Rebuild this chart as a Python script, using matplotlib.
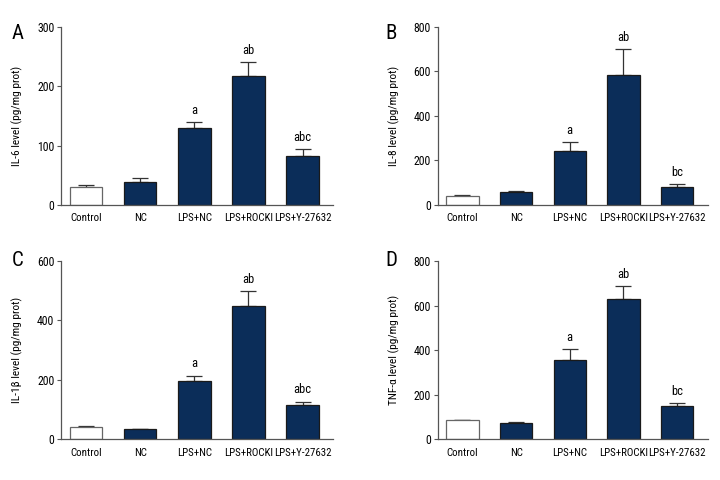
import matplotlib
matplotlib.use("Agg")
import matplotlib.pyplot as plt
import numpy as np

plt.rcParams["font.family"] = ["Roboto Condensed", "DejaVu Sans"]

groups = ["Control", "NC", "LPS+NC", "LPS+ROCKI", "LPS+Y-27632"]

il6_mean = [31, 39, 130, 217, 83]
il6_err = [2, 7, 9, 24, 11]
il6_sig = ["", "", "a", "ab", "abc"]

il8_mean = [39, 58, 243, 584, 82]
il8_err = [4, 5, 39, 116, 12]
il8_sig = ["", "", "a", "ab", "bc"]

il1b_mean = [41, 35, 195, 448, 115]
il1b_err = [2, 1, 19, 50, 12]
il1b_sig = ["", "", "a", "ab", "abc"]

tnf_mean = [87, 73, 356, 629, 151]
tnf_err = [1, 3, 49, 57, 10]
tnf_sig = ["", "", "a", "ab", "bc"]

panels = [
    ("A", "IL-6 level (pg/mg prot)", il6_mean, il6_err, il6_sig, 300, 100),
    ("B", "IL-8 level (pg/mg prot)", il8_mean, il8_err, il8_sig, 800, 200),
    ("C", "IL-1\u03b2 level (pg/mg prot)", il1b_mean, il1b_err, il1b_sig, 600, 200),
    ("D", "TNF-\u03b1 level (pg/mg prot)", tnf_mean, tnf_err, tnf_sig, 800, 200),
]

# axes rectangles in figure fraction (left, bottom, width, height)
rects = [
    (0.085, 0.573, 0.378, 0.371),
    (0.608, 0.573, 0.375, 0.371),
    (0.085, 0.085, 0.378, 0.371),
    (0.608, 0.085, 0.375, 0.371),
]
letter_pos = [(0.016, 0.950), (0.535, 0.950), (0.016, 0.478), (0.535, 0.478)]

navy = "#0b2d59"
axis_col = "#555555"

fig = plt.figure(figsize=(7.2, 4.8), dpi=100)

for (letter, ylabel, mean, err, sig, ymax, step), rect, lp in zip(panels, rects, letter_pos):
    ax = fig.add_axes(rect)
    x = np.arange(len(groups))
    colors = ["white"] + [navy] * (len(groups) - 1)
    edges = ["#666666"] + ["#1a1a1a"] * (len(groups) - 1)
    ax.bar(x, mean, width=0.6, color=colors, edgecolor=edges, linewidth=0.9, zorder=2)
    # upper error bars only
    ax.errorbar(x, mean, yerr=[np.zeros(len(err)), err], fmt="none",
                ecolor="#333333", elinewidth=0.9, capsize=6, capthick=0.9, zorder=1)
    for xi, m, e, s in zip(x, mean, err, sig):
        if s:
            ax.text(xi, m + e + ymax * 0.03, s, ha="center", va="bottom", fontsize=9)

    ax.set_xlim(-0.46, 4.57)
    ax.set_ylim(0, ymax)
    ax.set_yticks(np.arange(0, ymax + 1, step))
    ax.set_xticks(x)
    ax.set_xticklabels(groups, fontsize=7.8)
    ax.tick_params(axis="x", length=0, pad=6)
    ax.tick_params(axis="y", length=3, width=0.8, color=axis_col, labelsize=8.5, pad=2)
    ax.set_ylabel(ylabel, fontsize=8.2, labelpad=10)
    for side in ["top", "right"]:
        ax.spines[side].set_visible(False)
    for side in ["left", "bottom"]:
        ax.spines[side].set_color(axis_col)
        ax.spines[side].set_linewidth(0.9)

    fig.text(lp[0], lp[1], letter, fontsize=15, ha="left", va="top")

fig.savefig("out.png", dpi=100)
